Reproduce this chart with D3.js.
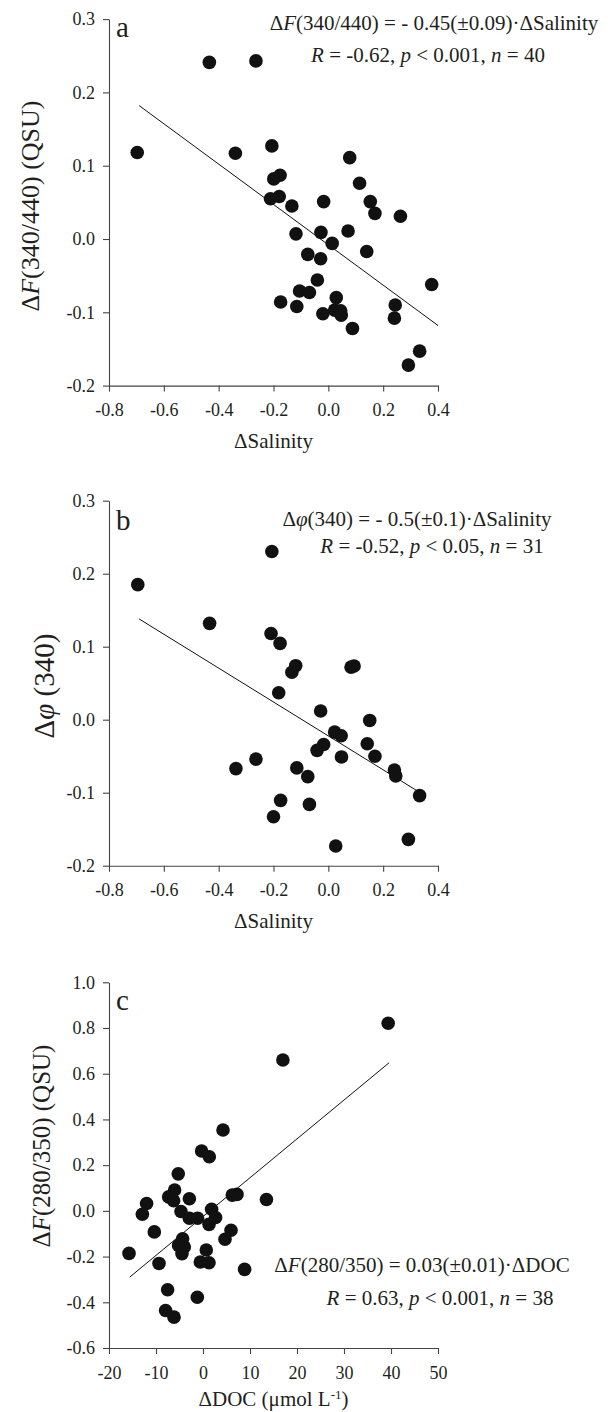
<!DOCTYPE html>
<html><head><meta charset="utf-8">
<script src="https://cdn.jsdelivr.net/npm/d3@7"></script>
<style>
html,body{margin:0;padding:0;background:#fff;}
svg{display:block;}
text{font-family:"Liberation Serif","DejaVu Serif",serif;fill:#231f20;}
</style></head>
<body>
<script>
// ---------- DATA ----------
// Panel a: ΔSalinity vs ΔF(340/440)
const aSalinity = [-0.697,-0.434,-0.264,-0.339,-0.206,-0.199,-0.176,-0.211,-0.179,-0.133,-0.017,0.078,0.114,0.153,0.170,0.263,-0.118,-0.027,0.014,0.072,0.140,-0.075,-0.028,-0.040,-0.105,-0.069,-0.174,-0.115,-0.020,0.029,0.023,0.045,0.047,0.088,0.244,0.241,0.377,0.333,0.292];
const aF340_440 = [0.118,0.241,0.243,0.117,0.127,0.082,0.087,0.055,0.058,0.045,0.051,0.111,0.076,0.051,0.035,0.031,0.007,0.009,-0.006,0.011,-0.017,-0.021,-0.027,-0.056,-0.071,-0.073,-0.086,-0.092,-0.102,-0.080,-0.097,-0.098,-0.104,-0.122,-0.090,-0.108,-0.062,-0.153,-0.172];
const aFitX = [-0.69, 0.40];
const aFitY = [0.182, -0.118];

// Panel b: ΔSalinity vs Δφ(340)
const bSalinity = [-0.695,-0.206,-0.433,-0.209,-0.176,-0.119,-0.133,0.083,0.094,-0.181,-0.028,0.151,0.023,0.047,0.142,-0.017,-0.041,0.048,0.170,-0.264,-0.337,-0.115,-0.075,0.241,0.246,0.333,-0.174,-0.069,-0.200,0.027,0.292];
const bPhi340 = [0.185,0.2305,0.132,0.118,0.1045,0.074,0.065,0.072,0.0735,0.037,0.012,-0.001,-0.017,-0.022,-0.033,-0.034,-0.042,-0.051,-0.050,-0.054,-0.067,-0.066,-0.078,-0.069,-0.077,-0.104,-0.1105,-0.116,-0.133,-0.173,-0.164];
const bFitX = [-0.69, 0.335];
const bFitY = [0.138, -0.100];

// Panel c: ΔDOC vs ΔF(280/350)
const cDOC = [39.4,17.0,4.26,-0.3,1.34,-5.26,-6.04,-7.3,-6.25,-2.9,-12.0,6.23,7.23,13.5,1.83,-12.9,-4.68,-2.9,-1.15,2.68,1.28,5.96,4.68,-10.36,-4.34,-5.19,-3.98,-4.47,0.70,-15.74,-9.36,-0.57,1.28,8.85,-7.53,-1.21,-7.96,-6.17];
const cF280_350 = [0.821,0.66,0.354,0.262,0.237,0.162,0.091,0.061,0.044,0.053,0.032,0.069,0.072,0.050,0.007,-0.015,-0.003,-0.032,-0.032,-0.029,-0.059,-0.085,-0.124,-0.092,-0.122,-0.151,-0.158,-0.187,-0.171,-0.186,-0.230,-0.224,-0.227,-0.256,-0.345,-0.378,-0.436,-0.465];
const cFitX = [-15.6, 39.6];
const cFitY = [-0.29, 0.648];

// Tick values
const salinityTicks = [-0.8,-0.6,-0.4,-0.2,0.0,0.2,0.4];
const docTicks = [-20,-10,0,10,20,30,40,50];
const abYTicks = [-0.2,-0.1,0.0,0.1,0.2,0.3];
const cYTicks = [-0.6,-0.4,-0.2,0.0,0.2,0.4,0.6,0.8,1.0];

// ---------- DRAW ----------
const W = 608, H = 1412;
const L = 109, R = 438;
const svg = d3.select("body").append("svg").attr("width", W).attr("height", H);

function fmt1(d){ return d.toFixed(1); }
function fmt0(d){ return d.toFixed(0); }

function seg(parent, parts, attrs){
  const t = parent.append("text");
  Object.entries(attrs).forEach(([k,v]) => t.attr(k, v));
  parts.forEach(p => {
    const ts = t.append("tspan").text(p.t);
    if (p.i) ts.attr("font-style", "italic");
    if (p.sup) ts.attr("baseline-shift", "super").attr("font-size", p.sup);
  });
  return t;
}

function panel(cfg){
  const g = svg.append("g");
  const x = d3.scaleLinear().domain(cfg.xDomain).range([L, R]);
  const y = d3.scaleLinear().domain(cfg.yDomain).range([cfg.bottom, cfg.top]);

  const xa = g.append("g").attr("transform", `translate(0,${cfg.bottom})`)
    .call(d3.axisBottom(x).tickValues(cfg.xTicks).tickFormat(cfg.xFmt).tickSize(6).tickSizeOuter(0).tickPadding(12));
  const ya = g.append("g").attr("transform", `translate(${L},0)`)
    .call(d3.axisLeft(y).tickValues(cfg.yTicks).tickFormat(fmt1).tickSize(6).tickSizeOuter(0).tickPadding(8));
  [xa, ya].forEach(a => {
    a.selectAll("path.domain").attr("stroke", "#444").attr("stroke-width", 1.1);
    a.selectAll(".tick line").attr("stroke", "#444").attr("stroke-width", 1.1);
    a.selectAll(".tick text").attr("font-family", '"Liberation Serif","DejaVu Serif",serif')
      .attr("font-size", 18).attr("fill", "#231f20");
  });

  // regression line
  g.append("line")
    .attr("x1", x(cfg.fitX[0])).attr("y1", y(cfg.fitY[0]))
    .attr("x2", x(cfg.fitX[1])).attr("y2", y(cfg.fitY[1]))
    .attr("stroke", "#111").attr("stroke-width", 1);

  // points
  g.selectAll("circle").data(cfg.xs.map((v,i) => [v, cfg.ys[i]])).join("circle")
    .attr("cx", d => x(d[0])).attr("cy", d => y(d[1])).attr("r", 6.8).attr("fill", "#111");

  // panel letter
  g.append("text").attr("x", 116).attr("y", cfg.letterY).attr("font-size", 29).text(cfg.letter);

  // equations
  seg(g, cfg.eq1, {x: cfg.eq1x, y: cfg.eq1y, "text-anchor": "middle", "font-size": 21});
  seg(g, cfg.eq2, {x: cfg.eq2x, y: cfg.eq2y, "text-anchor": "middle", "font-size": 21});

  // y title
  seg(g, cfg.yTitle, {transform: `translate(${cfg.yTitleX},${cfg.yTitleY}) rotate(-90)`, "text-anchor": "middle", "font-size": cfg.yTitleSize});
  // x title
  seg(g, cfg.xTitle, {x: (L + R) / 2, y: cfg.xTitleY, "text-anchor": "middle", "font-size": 21});
}

panel({
  xs: aSalinity, ys: aF340_440, fitX: aFitX, fitY: aFitY,
  xDomain: [-0.8, 0.4], yDomain: [-0.2, 0.3], top: 19.1, bottom: 385.6,
  xTicks: salinityTicks, yTicks: abYTicks, xFmt: fmt1,
  letter: "a", letterY: 37,
  eq1: [{t:"Δ"},{t:"F",i:1},{t:"(340/440) = - 0.45(±0.09)·ΔSalinity"}], eq1x: 434, eq1y: 30,
  eq2: [{t:"R",i:1},{t:" = -0.62, "},{t:"p",i:1},{t:" < 0.001, "},{t:"n",i:1},{t:" = 40"}], eq2x: 428, eq2y: 62,
  yTitle: [{t:"Δ"},{t:"F",i:1},{t:"(340/440) (QSU)"}], yTitleX: 39, yTitleY: 206, yTitleSize: 26,
  xTitle: [{t:"ΔSalinity"}], xTitleY: 448
});

panel({
  xs: bSalinity, ys: bPhi340, fitX: bFitX, fitY: bFitY,
  xDomain: [-0.8, 0.4], yDomain: [-0.2, 0.3], top: 500.7, bottom: 865.7,
  xTicks: salinityTicks, yTicks: abYTicks, xFmt: fmt1,
  letter: "b", letterY: 530,
  eq1: [{t:"Δ"},{t:"φ",i:1},{t:"(340) = - 0.5(±0.1)·ΔSalinity"}], eq1x: 417, eq1y: 526,
  eq2: [{t:"R",i:1},{t:" = -0.52, "},{t:"p",i:1},{t:" < 0.05, "},{t:"n",i:1},{t:" = 31"}], eq2x: 432, eq2y: 553,
  yTitle: [{t:"Δ"},{t:"φ",i:1},{t:" (340)"}], yTitleX: 54, yTitleY: 686, yTitleSize: 29,
  xTitle: [{t:"ΔSalinity"}], xTitleY: 928
});

panel({
  xs: cDOC, ys: cF280_350, fitX: cFitX, fitY: cFitY,
  xDomain: [-20, 50], yDomain: [-0.6, 1.0], top: 982.3, bottom: 1348,
  xTicks: docTicks, yTicks: cYTicks, xFmt: fmt0,
  letter: "c", letterY: 1010,
  eq1: [{t:"Δ"},{t:"F",i:1},{t:"(280/350) = 0.03(±0.01)·ΔDOC"}], eq1x: 422, eq1y: 1272,
  eq2: [{t:"R",i:1},{t:" = 0.63, "},{t:"p",i:1},{t:" < 0.001, "},{t:"n",i:1},{t:" = 38"}], eq2x: 440, eq2y: 1305,
  yTitle: [{t:"Δ"},{t:"F",i:1},{t:"(280/350) (QSU)"}], yTitleX: 50, yTitleY: 1146, yTitleSize: 25,
  xTitle: [{t:"ΔDOC (μmol L"},{t:"-1",sup:13},{t:")"}], xTitleY: 1406
});
</script>
</body></html>
